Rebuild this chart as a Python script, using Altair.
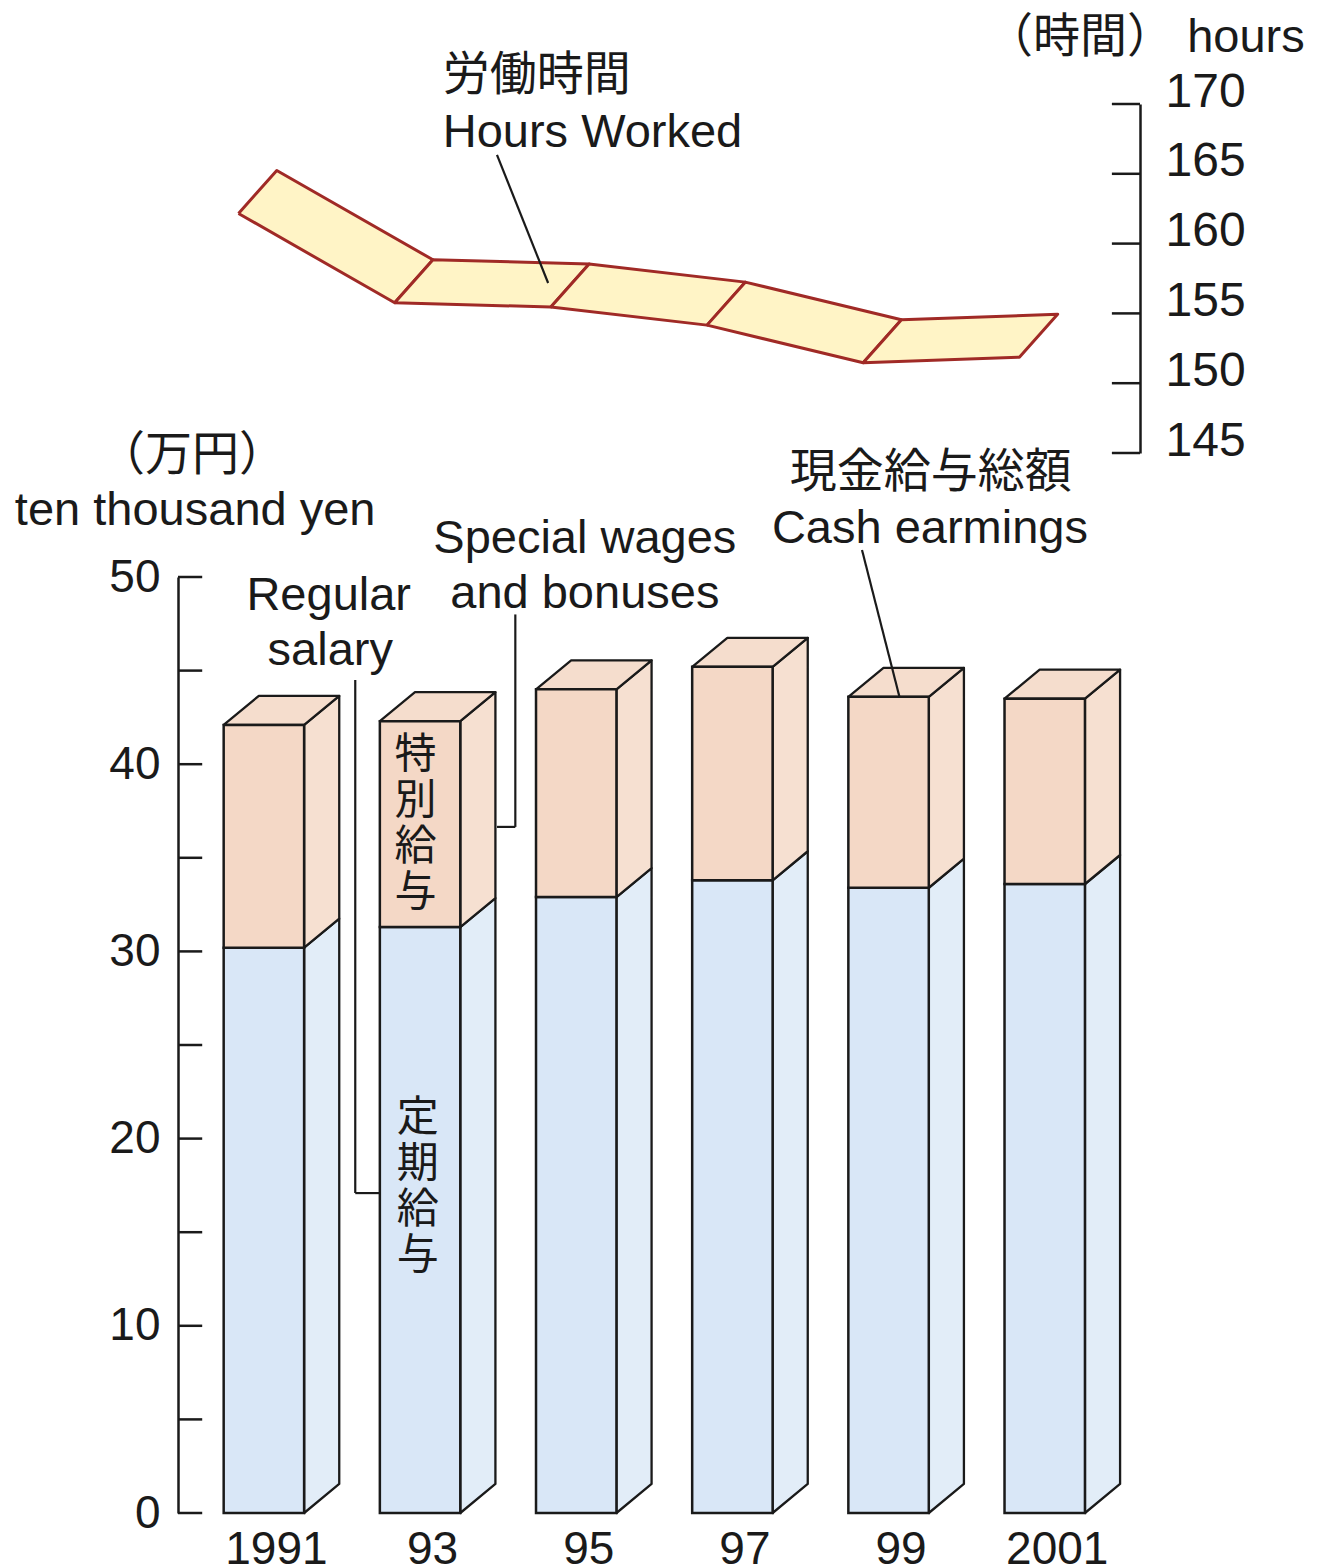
import altair as alt
import pandas as pd

# ---------------- data ----------------
years = [1991, 1993, 1995, 1997, 1999, 2001]
year_labels = ["1991", "93", "95", "97", "99", "2001"]
regular_salary = [30.2, 31.3, 32.9, 33.8, 33.4, 33.6]      # 定期給与 (万円)
cash_earnings = [42.1, 42.3, 44.0, 45.2, 43.6, 43.5]       # 現金給与総額 (万円)
hours_worked = [163.7, 157.3, 157.0, 155.7, 153.0, 153.4]  # 労働時間 (時間)
money_ticks = [0, 10, 20, 30, 40, 50]
money_minor = [0, 5, 10, 15, 20, 25, 30, 35, 40, 45, 50]
hour_ticks = [145, 150, 155, 160, 165, 170]

# ---------------- layout / style ----------------
W, H = 962, 1409
X_DOM = [1989.9, 2002.22]
MONEY_RANGE = [H, 473]
HOUR_RANGE = [349, 0]
HALF = 0.515          # half width of bar front (years)
DEPTH_X = 0.45        # 3D depth in x (years)
DEPTH_Y = 1.55        # 3D depth in y (万円)
RIB_X = 0.245         # half ribbon depth (years)
RIB_Y = 1.54          # half ribbon depth (hours)
RIB_SHIFT = -0.08

LAT = "Liberation Sans, Arial, Noto Sans CJK JP"
CJK = "Noto Sans CJK JP"
INK = "#1a1a1a"
FS_LAT = 47
FS_CJK = 47
FS_AX = 46

FRONT_COL = {"reg": "#d9e7f7", "bon": "#f4d8c6"}
SIDE_COL = {"reg": "#e2edf8", "bon": "#f6e0d1"}
C_TOP = "#f5ddcd"

xs = alt.Scale(domain=X_DOM, nice=False, zero=False)
ys_m = alt.Scale(domain=[0, 50], range=MONEY_RANGE, nice=False, zero=False)
ys_h = alt.Scale(domain=[145, 170], range=HOUR_RANGE, nice=False, zero=False)

label_expr = " : ".join(
    f"datum.value == {y} ? '{l}'" for y, l in zip(years, year_labels)) + " : ''"
x_axis = alt.Axis(
    values=years, labelExpr=label_expr, domain=False, ticks=False, tickSize=0,
    grid=False, labelFontSize=FS_AX, labelOffset=12, labelPadding=14, labelOverlap=False,
    title=None)


def X(field):
    return alt.X(field, scale=xs, axis=x_axis)


# ---------------- tables ----------------
front_rows, side_rows, top_rows = [], [], []
for yr, reg, tot in zip(years, regular_salary, cash_earnings):
    for part, lo, hi in (("reg", 0.0, reg), ("bon", reg, tot)):
        front_rows.append(dict(x=yr - HALF, x2=yr + HALF, lo=lo, hi=hi, c=FRONT_COL[part]))
        sid = f"{yr}-{part}"
        side_rows.append(dict(id=sid, x=yr + HALF, lo=lo, hi=hi, c=SIDE_COL[part]))
        side_rows.append(dict(id=sid, x=yr + HALF + DEPTH_X, lo=lo + DEPTH_Y,
                              hi=hi + DEPTH_Y, c=SIDE_COL[part]))
    top_rows.append(dict(id=yr, y=tot, xa=yr - HALF, xb=yr + HALF))
    top_rows.append(dict(id=yr, y=tot + DEPTH_Y, xa=yr - HALF + DEPTH_X,
                         xb=yr + HALF + DEPTH_X))
front_df = pd.DataFrame(front_rows)
side_df = pd.DataFrame(side_rows)
top_df = pd.DataFrame(top_rows)

rib_rows = []
for i in range(len(years) - 1):
    xa, xb = years[i] + RIB_SHIFT, years[i + 1] + RIB_SHIFT
    ha, hb = hours_worked[i], hours_worked[i + 1]
    pts = [(xa - RIB_X, ha - RIB_Y), (xb - RIB_X, hb - RIB_Y),
           (xb + RIB_X, hb + RIB_Y), (xa + RIB_X, ha + RIB_Y),
           (xa - RIB_X, ha - RIB_Y)]
    for k, (px, py) in enumerate(pts):
        rib_rows.append(dict(seg=i, o=k, x=px, y=py))
rib_df = pd.DataFrame(rib_rows)

# ---------------- bar (money) layers ----------------
sides = alt.Chart(side_df).mark_area(stroke=INK, strokeWidth=2.3, strokeJoin="round").encode(
    x=X("x:Q"),
    y=alt.Y("lo:Q", scale=ys_m, axis=None),
    y2="hi:Q",
    detail="id:N",
    color=alt.Color("c:N", scale=None),
)
tops = alt.Chart(top_df).mark_area(orient="horizontal", color=C_TOP, stroke=INK,
                                   strokeWidth=2.3, strokeJoin="round").encode(
    y=alt.Y("y:Q", scale=ys_m, axis=None),
    x=X("xa:Q"),
    x2="xb:Q",
    detail="id:N",
)
fronts = alt.Chart(front_df).mark_rect(stroke=INK, strokeWidth=2.5).encode(
    x=X("x:Q"),
    x2="x2:Q",
    y=alt.Y("lo:Q", scale=ys_m, axis=alt.Axis(
        values=money_ticks, ticks=False, tickSize=0, grid=False, labelPadding=18,
        labelFontSize=FS_AX, domainColor=INK, domainWidth=2.5, title=None)),
    y2="hi:Q",
    color=alt.Color("c:N", scale=None),
)
money_tick_rules = alt.Chart(
    pd.DataFrame({"v": money_minor, "a": X_DOM[0], "b": X_DOM[0] + 0.31})
).mark_rule(color=INK, strokeWidth=2.5).encode(
    y=alt.Y("v:Q", scale=ys_m, axis=None),
    x=X("a:Q"),
    x2="b:Q",
)

lines_df = pd.DataFrame([
    dict(x=1992.17, x2=1992.17, y=44.5, y2=17.09),
    dict(x=1992.17, x2=1992.49, y=17.09, y2=17.09),
    dict(x=1994.22, x2=1994.22, y=48.0, y2=36.65),
    dict(x=1994.22, x2=1993.985, y=36.65, y2=36.65),
    dict(x=1998.66, x2=1999.14, y=51.44, y2=43.59),
])
money_lines = alt.Chart(lines_df).mark_rule(color=INK, strokeWidth=2.2).encode(
    x=X("x:Q"), x2="x2:Q",
    y=alt.Y("y:Q", scale=ys_m, axis=None), y2="y2:Q",
)

lat_df = pd.DataFrame([
    dict(x=1990.12, y=52.78, t="ten thousand yen"),
    dict(x=1991.83, y=48.24, t="Regular"),
    dict(x=1991.85, y=45.30, t="salary"),
    dict(x=1995.11, y=51.28, t="Special wages"),
    dict(x=1995.11, y=48.34, t="and bonuses"),
    dict(x=1999.53, y=51.82, t="Cash earmings"),
])
lat_text = alt.Chart(lat_df).mark_text(
    align="center", baseline="alphabetic", font=LAT, fontSize=FS_LAT, color=INK).encode(
    x=X("x:Q"), y=alt.Y("y:Q", scale=ys_m, axis=None), text="t:N")

cjk_df = pd.DataFrame([
    dict(x=1990.08, y=56.46, t="（万円）"),
    dict(x=1999.54, y=55.56, t="現金給与総額"),
])
cjk_text = alt.Chart(cjk_df).mark_text(
    align="center", baseline="middle", font=CJK, fontSize=FS_CJK, color=INK).encode(
    x=X("x:Q"), y=alt.Y("y:Q", scale=ys_m, axis=None), text="t:N")

vert_df = pd.DataFrame([
    dict(x=1992.94, y=41.56, t="特\n別\n給\n与"),
    dict(x=1992.97, y=22.17, t="定\n期\n給\n与"),
])
vert_text = alt.Chart(vert_df).mark_text(
    align="center", baseline="top", font=CJK, fontSize=42, lineBreak="\n", lineHeight=46,
    color=INK).encode(
    x=X("x:Q"), y=alt.Y("y:Q", scale=ys_m, axis=None), text="t:N")

# ---------------- hours layers ----------------
ribbon = alt.Chart(rib_df).mark_line(
    fill="#fff4c6", stroke="#a02a26", strokeWidth=3, strokeJoin="round").encode(
    x=X("x:Q"),
    y=alt.Y("y:Q", scale=ys_h, axis=alt.Axis(
        orient="right", values=hour_ticks, ticks=False, tickSize=0, grid=False,
        labelPadding=25, labelFontSize=48, labelOffset=-12, domainColor=INK,
        domainWidth=2.5, title=None)),
    detail="seg:N",
    order="o:Q",
)
hour_tick_rules = alt.Chart(
    pd.DataFrame({"v": hour_ticks, "a": X_DOM[1] - 0.36, "b": X_DOM[1]})
).mark_rule(color=INK, strokeWidth=2.5).encode(
    y=alt.Y("v:Q", scale=ys_h, axis=None),
    x=X("a:Q"),
    x2="b:Q",
)
hour_line = alt.Chart(pd.DataFrame([dict(x=1993.985, x2=1994.64, y=166.35, y2=157.18)])
                      ).mark_rule(color=INK, strokeWidth=2.2).encode(
    x=X("x:Q"), x2="x2:Q",
    y=alt.Y("y:Q", scale=ys_h, axis=None), y2="y2:Q",
)
h_cjk = alt.Chart(pd.DataFrame([dict(x=1993.29, y=172.0, t="労働時間")])).mark_text(
    align="left", baseline="middle", font=CJK, fontSize=FS_CJK, color=INK).encode(
    x=X("x:Q"), y=alt.Y("y:Q", scale=ys_h, axis=None), text="t:N")
h_lat = alt.Chart(pd.DataFrame([dict(x=1993.29, y=166.92, t="Hours Worked")])).mark_text(
    align="left", baseline="alphabetic", font=LAT, fontSize=FS_LAT, color=INK).encode(
    x=X("x:Q"), y=alt.Y("y:Q", scale=ys_h, axis=None), text="t:N")
h_unit = alt.Chart(pd.DataFrame([dict(x=2004.33, y=173.72, t="（時間） hours")])).mark_text(
    align="right", baseline="alphabetic", font=LAT, fontSize=FS_LAT, color=INK).encode(
    x=X("x:Q"), y=alt.Y("y:Q", scale=ys_h, axis=None), text="t:N")

chart = alt.layer(
    sides, tops, fronts, money_tick_rules, money_lines, lat_text, cjk_text, vert_text,
    ribbon, hour_tick_rules, hour_line, h_cjk, h_lat, h_unit,
).resolve_scale(y="independent").properties(
    width=W, height=H,
    autosize=alt.AutoSizeParams(type="none"),
    padding={"left": 170, "top": 96, "right": 174, "bottom": 55},
    background="white",
).configure_view(strokeWidth=0).configure_axis(
    labelFont=LAT, labelColor=INK,
)

chart.save("out.html", embed_options={"renderer": "svg", "actions": False})
